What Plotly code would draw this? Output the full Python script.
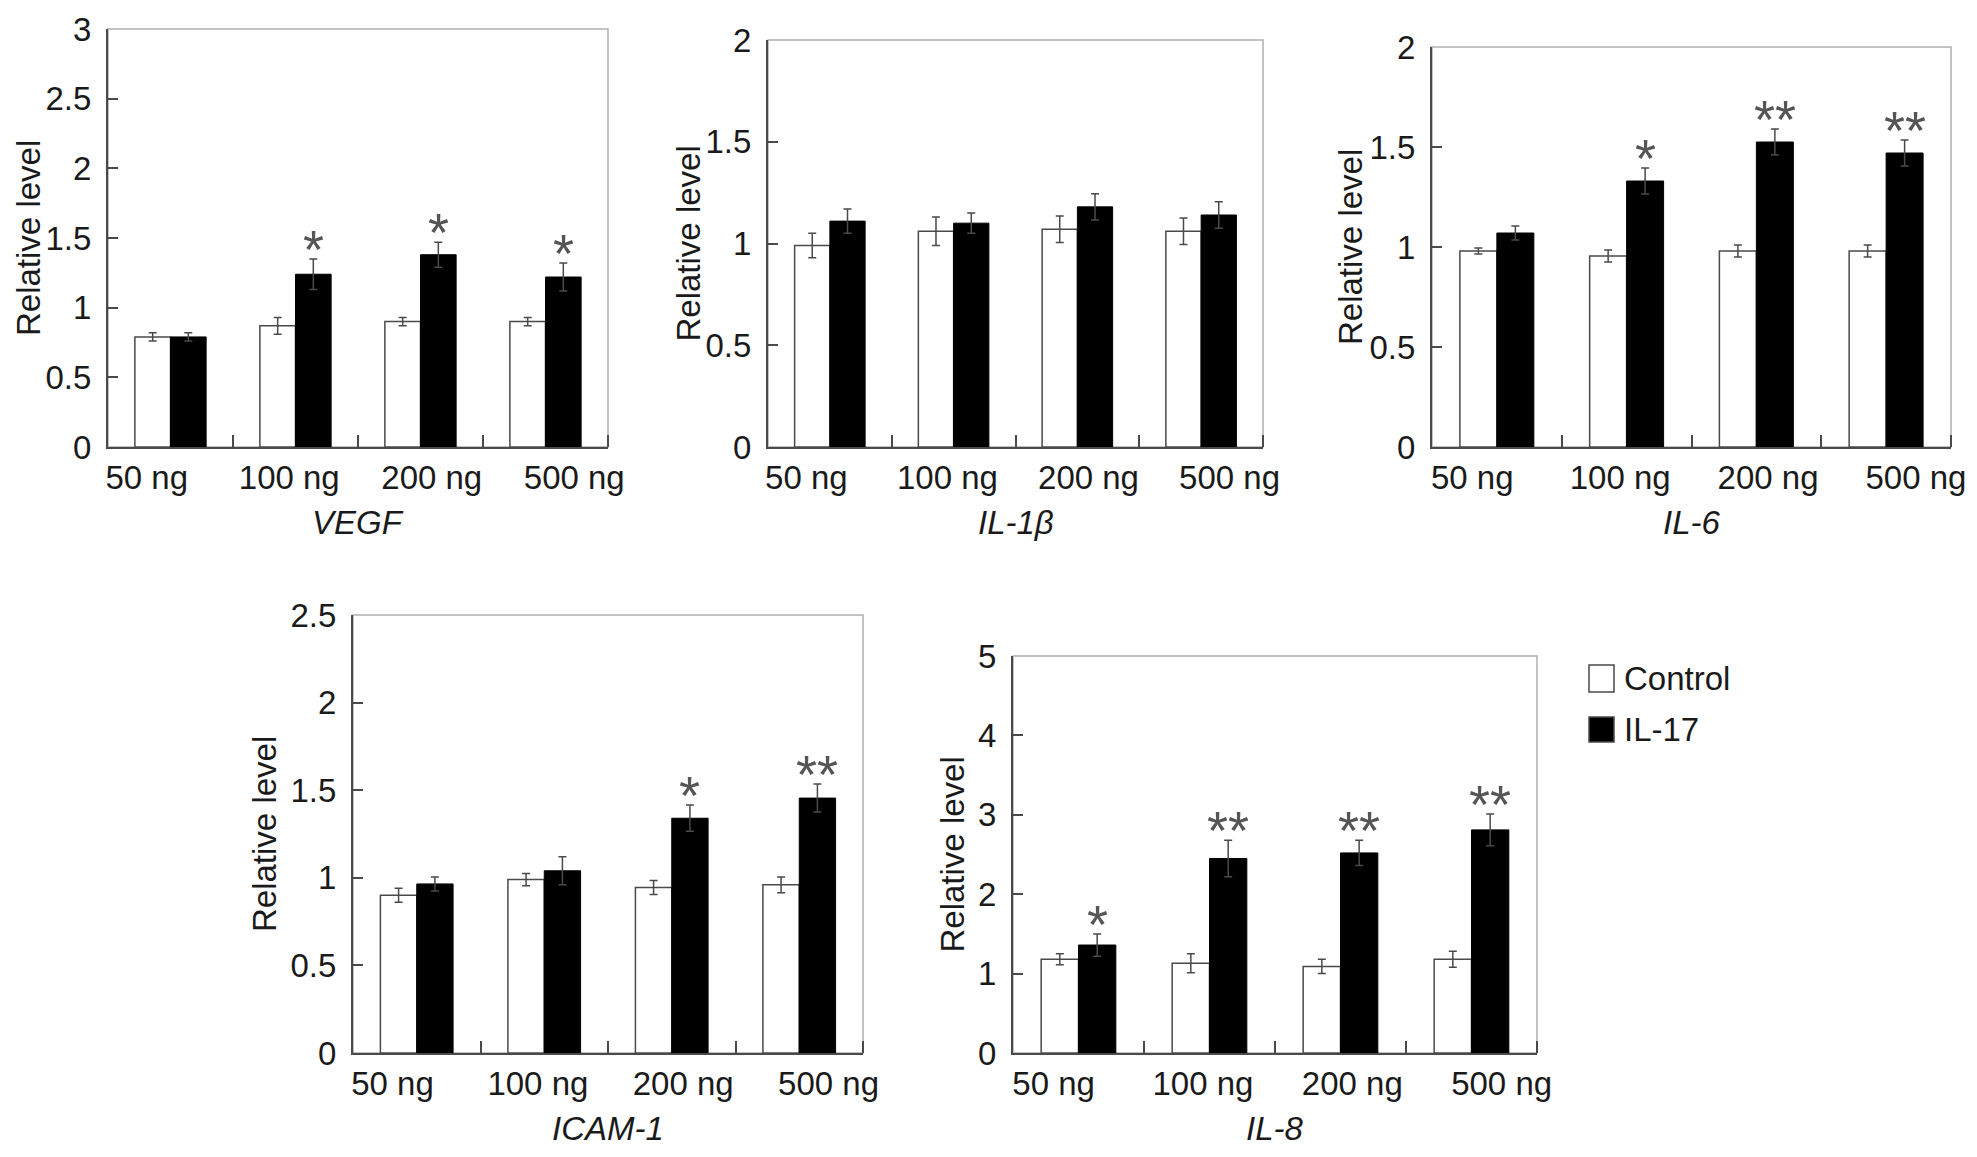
import plotly.graph_objects as go

doses = ["50 ng", "100 ng", "200 ng", "500 ng"]
genes = ["VEGF", "IL-1β", "IL-6", "ICAM-1", "IL-8"]

vegf_control = [0.79, 0.87, 0.90, 0.90]
vegf_control_err = [0.03, 0.06, 0.03, 0.03]
vegf_il17 = [0.79, 1.24, 1.38, 1.22]
vegf_il17_err = [0.03, 0.11, 0.09, 0.10]
vegf_stars = ["", "*", "*", "*"]

il1b_control = [0.99, 1.06, 1.07, 1.06]
il1b_control_err = [0.06, 0.07, 0.065, 0.065]
il1b_il17 = [1.11, 1.10, 1.18, 1.14]
il1b_il17_err = [0.06, 0.05, 0.065, 0.065]
il1b_stars = ["", "", "", ""]

il6_control = [0.98, 0.955, 0.98, 0.98]
il6_control_err = [0.015, 0.03, 0.03, 0.03]
il6_il17 = [1.07, 1.33, 1.525, 1.47]
il6_il17_err = [0.035, 0.065, 0.065, 0.065]
il6_stars = ["", "*", "**", "**"]

icam_control = [0.90, 0.99, 0.945, 0.96]
icam_control_err = [0.04, 0.035, 0.04, 0.045]
icam_il17 = [0.965, 1.04, 1.34, 1.455]
icam_il17_err = [0.04, 0.08, 0.075, 0.08]
icam_stars = ["", "", "*", "**"]

il8_control = [1.18, 1.13, 1.09, 1.18]
il8_control_err = [0.07, 0.12, 0.09, 0.10]
il8_il17 = [1.36, 2.45, 2.52, 2.81]
il8_il17_err = [0.14, 0.23, 0.16, 0.20]
il8_stars = ["*", "**", "**", "**"]

y_max = [3, 2, 2, 2.5, 5]
y_step = [0.5, 0.5, 0.5, 0.5, 1]

controls = [vegf_control, il1b_control, il6_control, icam_control, il8_control]
controls_err = [vegf_control_err, il1b_control_err, il6_control_err, icam_control_err, il8_control_err]
treated = [vegf_il17, il1b_il17, il6_il17, icam_il17, il8_il17]
treated_err = [vegf_il17_err, il1b_il17_err, il6_il17_err, icam_il17_err, il8_il17_err]
stars = [vegf_stars, il1b_stars, il6_stars, icam_stars, il8_stars]

W, H = 1977, 1157
OFF_X, OFF_Y = 5, 8  # the page body pushes the figure in a little
FONT = "Liberation Sans, Arial, sans-serif"
DARK = "#4a4a4a"
TXT = "#1a1a1a"
FS = 33


def fx(px):
    return (px - OFF_X) / W


def fy(py):
    return 1 - (py - OFF_Y) / H


# panel boxes in page pixels: left, right, top, bottom
boxes = [(105, 605, 29, 447), (765, 1260, 40, 447), (1429, 1948, 47, 447),
         (350, 860, 615, 1053), (1010, 1534, 656, 1053)]
ytitle_shift = [-80, -80, -82, -89, -61]

bargap = 0.43
bar_w = (1 - bargap) / 2
pos = list(range(len(doses)))
label_pos = [1.52 + (i - 1.5) * 1.14 for i in pos]

fig = go.Figure()
annotations = []
shapes = []

for k in range(5):
    n = "" if k == 0 else str(k + 1)
    xa, ya = "x" + n, "y" + n
    l, r, t, b = boxes[k]

    fig.add_trace(go.Bar(
        x=pos, y=controls[k], xaxis=xa, yaxis=ya, name="Control", showlegend=False,
        marker=dict(color="white", line=dict(color=DARK, width=1.5)),
        error_y=dict(type="data", array=controls_err[k], color=DARK, thickness=1.5, width=4),
    ))
    fig.add_trace(go.Bar(
        x=pos, y=treated[k], xaxis=xa, yaxis=ya, name="IL-17", showlegend=False,
        marker=dict(color="black", line=dict(color="black", width=1)),
        error_y=dict(type="data", array=treated_err[k], color=DARK, thickness=1.5, width=4),
    ))

    fig.layout["xaxis" + n] = dict(
        domain=[fx(l), fx(r)], anchor=ya, range=[-0.5, 3.5], automargin=False,
        tickmode="array", tickvals=label_pos, ticktext=doses, ticks="",
        ticklabelstandoff=0,
        tickfont=dict(size=FS, color=TXT, family=FONT),
        minor=dict(tickmode="array", tickvals=[0.5, 1.5, 2.5, 3.5], ticks="inside",
                   ticklen=12, tickcolor=DARK, tickwidth=1.5),
        showline=True, linecolor=DARK, linewidth=2,
        showgrid=False, zeroline=False, fixedrange=True,
    )
    fig.layout["yaxis" + n] = dict(
        domain=[fy(b), fy(t)], anchor=xa, range=[0, y_max[k]], automargin=False,
        tick0=0, dtick=y_step[k], ticks="inside", ticklen=10, tickcolor=DARK, tickwidth=1.5,
        ticklabelstandoff=8,
        tickfont=dict(size=FS, color=TXT, family=FONT),
        showline=True, linecolor=DARK, linewidth=2,
        showgrid=False, zeroline=False, fixedrange=True,
    )

    shapes.append(dict(type="rect", xref=xa + " domain", yref=ya + " domain",
                       x0=0, x1=1, y0=0, y1=1, layer="below",
                       line=dict(color="#b0b0b0", width=1.5)))

    annotations.append(dict(text="Relative level", textangle=-90, showarrow=False,
                            xref=xa + " domain", yref=ya + " domain", x=0, y=0.5,
                            xanchor="center", yanchor="middle", xshift=ytitle_shift[k],
                            font=dict(size=FS, color=TXT, family=FONT)))
    annotations.append(dict(text="<i>" + genes[k] + "</i>", showarrow=False,
                            xref=xa + " domain", yref=ya + " domain", x=0.5, y=0,
                            xanchor="center", yanchor="middle", yshift=-75,
                            font=dict(size=FS, color=TXT, family=FONT)))

    for i in pos:
        if stars[k][i]:
            annotations.append(dict(text=stars[k][i], showarrow=False,
                                    xref=xa, yref=ya, x=i + bar_w / 2,
                                    y=treated[k][i] + treated_err[k][i],
                                    xanchor="center", yanchor="bottom", yshift=-22,
                                    font=dict(size=54, color="#555", family=FONT)))

# legend drawn by hand
legend_items = [("Control", "white", 665, 692), ("IL-17", "black", 717, 742)]
for label, fill, y0, y1 in legend_items:
    shapes.append(dict(type="rect", xref="paper", yref="paper",
                       x0=fx(1586), x1=fx(1611), y0=fy(y1), y1=fy(y0),
                       fillcolor=fill, line=dict(color=DARK, width=1.5)))
    annotations.append(dict(text=label, showarrow=False, xref="paper", yref="paper",
                            x=fx(1619), y=fy((y0 + y1) / 2),
                            xanchor="left", yanchor="middle",
                            font=dict(size=FS, color=TXT, family=FONT)))

fig.update_layout(
    width=W, height=H, margin=dict(l=0, r=0, t=0, b=0, pad=0, autoexpand=False),
    paper_bgcolor="white", plot_bgcolor="white",
    barmode="group", bargap=bargap, bargroupgap=0,
    shapes=shapes, annotations=annotations, showlegend=False,
    font=dict(family=FONT),
)

fig.write_html("out.html")
